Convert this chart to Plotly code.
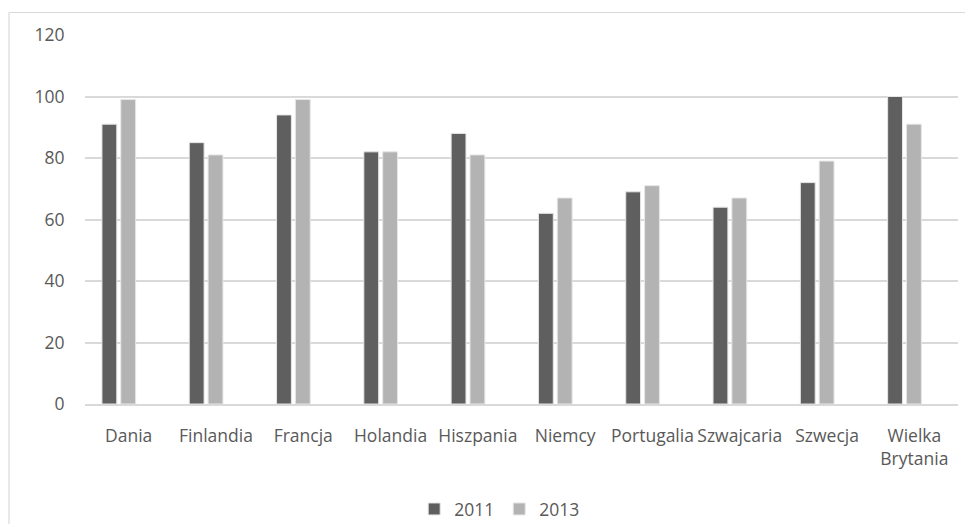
import plotly.graph_objects as go

countries = ["Dania", "Finlandia", "Francja", "Holandia", "Hiszpania", "Niemcy",
             "Portugalia", "Szwajcaria", "Szwecja", "Wielka<br>Brytania"]
values_2011 = [91, 85, 94, 82, 88, 62, 69, 64, 72, 100]
values_2013 = [99, 81, 99, 82, 81, 67, 71, 67, 79, 91]
y_ticks = [0, 20, 40, 60, 80, 100, 120]

# page body has an 8px margin on all sides; size the figure so no scrollbars appear
OFF = 8
W, H = 973 - 2 * OFF, 532 - 2 * OFF
ML, MT = 85 - OFF, 35 - OFF
MR = W - (958 - OFF)
MB = H - (404 - OFF)
pw, ph = W - ML - MR, H - MT - MB

# bars sit left of the category centre in the reference (as if a third, empty series followed)
BAR_W = 0.17
fig = go.Figure()
fig.add_trace(go.Bar(x=countries, y=values_2011, name="2011", width=BAR_W, offset=-0.306,
                     marker=dict(color="#5f5f5f", line=dict(color="#e6e6e6", width=1))))
fig.add_trace(go.Bar(x=countries, y=values_2013, name="2013", width=BAR_W, offset=-0.09,
                     marker=dict(color="#b3b3b3", line=dict(color="#e6e6e6", width=1))))

font = dict(family="Open Sans", size=17.5, color="#595959")

# outer chart border: only top and left edges are visible in the reference
bx = (9 - OFF - ML) / pw
by = 1 + (MT - (12.5 - OFF)) / ph
border = dict(color="#d9d9d9", width=1.2)
fig.add_shape(type="line", xref="paper", yref="paper", x0=bx, x1=1 + MR / pw,
              y0=by, y1=by, line=border, layer="below")
fig.add_shape(type="line", xref="paper", yref="paper", x0=bx, x1=bx,
              y0=by, y1=-MB / ph, line=border, layer="below")

fig.update_layout(
    width=W, height=H,
    margin=dict(l=ML, r=MR, t=MT, b=MB, autoexpand=False),
    paper_bgcolor="white", plot_bgcolor="white",
    barmode="overlay",
    font=font,
    showlegend=True,
    legend=dict(orientation="h", x=0.475, xanchor="center", y=-0.236, yanchor="top",
                font=font, itemwidth=30),
    xaxis=dict(showgrid=False, showline=True, linecolor="#d9d9d9", linewidth=1.5,
               ticks="outside", ticklen=15, tickcolor="rgba(0,0,0,0)",
               tickfont=font, fixedrange=True, range=[-0.5, len(countries) - 0.5]),
    yaxis=dict(range=[0, 120], tickvals=y_ticks, showgrid=True, gridcolor="#d9d9d9",
               gridwidth=1.5, zeroline=False, showline=False,
               ticks="outside", ticklen=16, tickcolor="rgba(0,0,0,0)",
               tickfont=font, fixedrange=True),
)

fig.write_html("out.html")
